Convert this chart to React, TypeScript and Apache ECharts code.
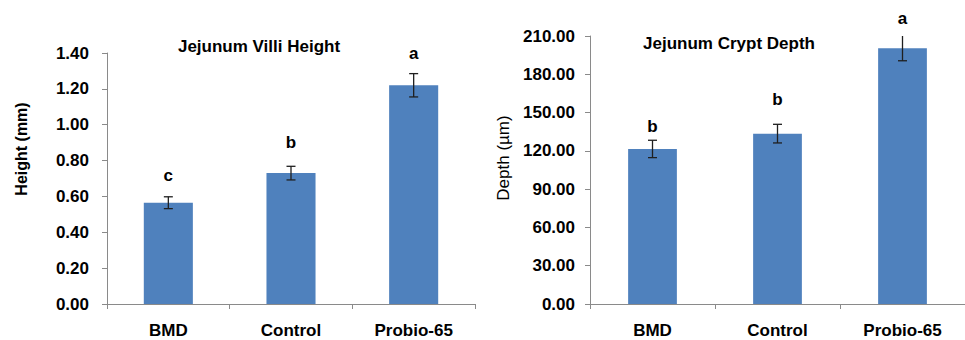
import React, { useEffect, useRef } from "react";
import * as echarts from "echarts";

const categories = ["BMD", "Control", "Probio-65"];

const villiTitle = "Jejunum Villi Height";
const villiAxisName = "Height (mm)";
const villiHeight = [0.565, 0.73, 1.22];
const villiErr = [0.033, 0.038, 0.065];
const villiLetters = ["c", "b", "a"];
const villiMax = 1.4;
const villiInterval = 0.2;

const cryptTitle = "Jejunum Crypt Depth";
const cryptAxisName = "Depth (µm)";
const cryptDepth = [121.5, 133.5, 200.4];
const cryptErr = [6.8, 7.3, 9.8];
const cryptLetters = ["b", "b", "a"];
const cryptMax = 210;
const cryptInterval = 30;

const FONT = '"Liberation Sans", Arial, sans-serif';
const BAR_COLOR = "#4F81BD";
const AXIS_COLOR = "#8a8a8a";

function errorSeries(
  xAxisIndex: number,
  values: number[],
  errs: number[],
  letters: string[],
  letterOffsets: number[],
  yMax: number
) {
  return {
    type: "custom",
    xAxisIndex,
    yAxisIndex: xAxisIndex,
    z: 5,
    clip: false,
    data: values.map((v, i) => [i, v, errs[i]]),
    renderItem: (params: any, api: any) => {
      const i = api.value(0);
      const v = api.value(1);
      const e = api.value(2);
      const top = api.coord([i, v + e]);
      const bot = api.coord([i, v - e]);
      const topClipped = v + e > yMax;
      const topPt = topClipped ? api.coord([i, yMax]) : top;
      const x = top[0];
      const hw = 4.5;
      const stroke = { stroke: "#1f1f1f", lineWidth: 1.3 };
      const children: any[] = [
        { type: "line", shape: { x1: x, y1: topPt[1], x2: x, y2: bot[1] }, style: stroke },
        { type: "line", shape: { x1: x - hw, y1: bot[1], x2: x + hw, y2: bot[1] }, style: stroke },
      ];
      if (!topClipped) {
        children.push({
          type: "line",
          shape: { x1: x - hw, y1: top[1], x2: x + hw, y2: top[1] },
          style: stroke,
        });
      }
      children.push({
        type: "text",
        x,
        y: top[1] - letterOffsets[params.dataIndex],
        style: {
          text: letters[params.dataIndex],
          textAlign: "center",
          textVerticalAlign: "middle",
          verticalAlign: "middle",
          font: `bold 17px ${FONT}`,
          fill: "#000",
        },
      });
      return { type: "group", children };
    },
  };
}

function makeXAxis(gridIndex: number) {
  return {
    type: "category",
    gridIndex,
    data: categories,
    axisLine: { show: true, lineStyle: { color: AXIS_COLOR, width: 1 } },
    axisTick: { show: true, length: 5, interval: 0, lineStyle: { color: AXIS_COLOR } },
    axisLabel: {
      interval: 0,
      margin: 18,
      color: "#000",
      fontFamily: FONT,
      fontWeight: "bold",
      fontSize: 17,
    },
    splitLine: { show: false },
  };
}

function makeYAxis(gridIndex: number, max: number, interval: number, margin: number) {
  return {
    type: "value",
    gridIndex,
    min: 0,
    max,
    interval,
    axisLine: { show: true, lineStyle: { color: AXIS_COLOR, width: 1 } },
    axisTick: { show: true, length: 5, lineStyle: { color: AXIS_COLOR } },
    axisLabel: {
      margin,
      color: "#000",
      fontFamily: FONT,
      fontWeight: "bold",
      fontSize: 17,
      formatter: (v: number) => v.toFixed(2),
    },
    splitLine: { show: false },
  };
}

export default function App() {
  const ref = useRef<HTMLDivElement>(null);

  useEffect(() => {
    if (!ref.current) return;
    const chart = echarts.init(ref.current, undefined, { renderer: "svg" });
    const option: any = {
      animation: false,
      backgroundColor: "#ffffff",
      grid: [
        { left: 107, top: 53, width: 368, height: 251, containLabel: false },
        { left: 590, top: 36, width: 388, height: 268, containLabel: false },
      ],
      xAxis: [makeXAxis(0), makeXAxis(1)],
      yAxis: [
        makeYAxis(0, villiMax, villiInterval, 18),
        makeYAxis(1, cryptMax, cryptInterval, 15),
      ],
      graphic: [
        {
          type: "text",
          x: 259,
          y: 46,
          style: {
            text: villiTitle,
            textAlign: "center",
            textVerticalAlign: "middle",
            verticalAlign: "middle",
            font: `bold 17px ${FONT}`,
            fill: "#000",
          },
        },
        {
          type: "text",
          x: 729,
          y: 43,
          style: {
            text: cryptTitle,
            textAlign: "center",
            textVerticalAlign: "middle",
            verticalAlign: "middle",
            font: `bold 17px ${FONT}`,
            fill: "#000",
          },
        },
        {
          type: "text",
          x: 21,
          y: 149,
          rotation: Math.PI / 2,
          style: {
            text: villiAxisName,
            textAlign: "center",
            textVerticalAlign: "middle",
            verticalAlign: "middle",
            font: `bold 16px ${FONT}`,
            fill: "#000",
          },
        },
        {
          type: "text",
          x: 503,
          y: 158,
          rotation: Math.PI / 2,
          style: {
            text: cryptAxisName,
            textAlign: "center",
            textVerticalAlign: "middle",
            verticalAlign: "middle",
            font: `17px ${FONT}`,
            fill: "#000",
          },
        },
      ],
      series: [
        {
          type: "bar",
          xAxisIndex: 0,
          yAxisIndex: 0,
          data: villiHeight,
          barWidth: "40%",
          itemStyle: { color: BAR_COLOR },
        },
        {
          type: "bar",
          xAxisIndex: 1,
          yAxisIndex: 1,
          data: cryptDepth,
          barWidth: "39%",
          itemStyle: { color: BAR_COLOR },
        },
        errorSeries(0, villiHeight, villiErr, villiLetters, [21, 24, 20], villiMax),
        errorSeries(1, cryptDepth, cryptErr, cryptLetters, [14, 25, 17], cryptMax),
      ],
    };
    chart.setOption(option);
    return () => chart.dispose();
  }, []);

  return (
    <div
      ref={ref}
      style={{ position: "absolute", left: 0, top: 0, width: 965, height: 340, background: "#fff" }}
    />
  );
}
